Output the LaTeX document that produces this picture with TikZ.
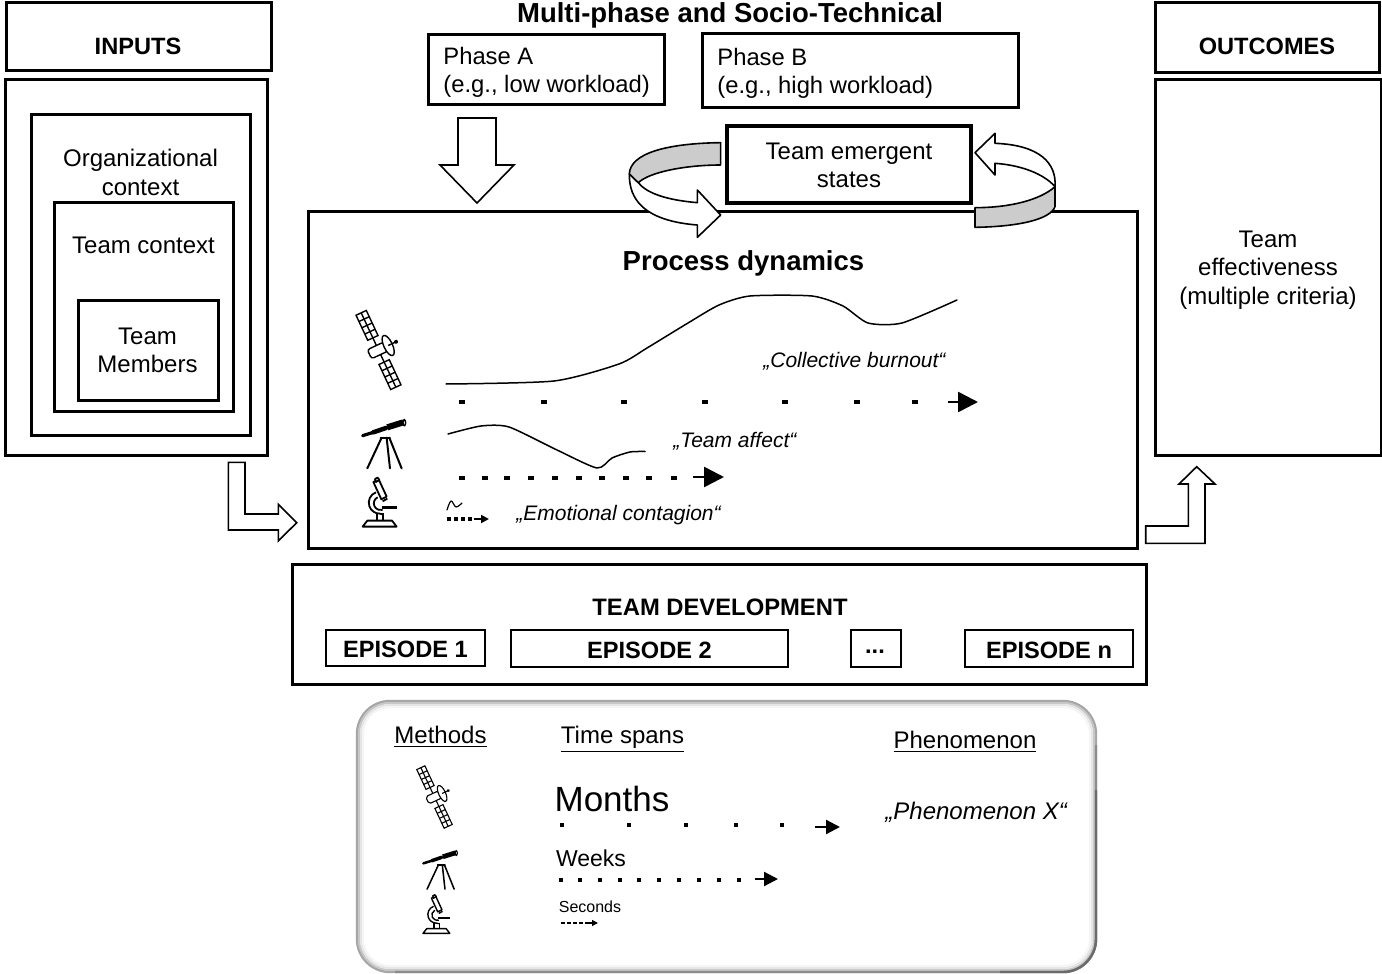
\documentclass[tikz,border=0pt]{standalone}
\usepackage{fontspec}
\setmainfont{Liberation Sans}
\usetikzlibrary{arrows.meta}
\tikzset{
  box/.style={draw=black,line width=1.5pt,fill=white,inner sep=0pt},
  txt/.style={inner sep=0pt,align=center,font=\fontsize{12}{14.3}\selectfont},
  ltxt/.style={inner sep=0pt,align=left,anchor=west,font=\fontsize{11.9}{14.3}\selectfont},
  head/.style={inner sep=0pt,align=center,font=\fontsize{11.8}{14}\selectfont\bfseries},
  quote/.style={inner sep=0pt,anchor=west,font=\fontsize{10.5}{12}\selectfont\itshape},
  blockarrow/.style={draw=black,line width=.8pt,fill=white,line join=miter},
  curve/.style={draw=black,line width=.75pt,line join=round,line cap=round},
  dot/.style={fill=black,inner sep=0pt,minimum width=#1,minimum height=.8*#1,draw=none,shape=rectangle},
  tail/.style args={#1 and #2}{line width=#1,-{Triangle[length=#2,width=#2]},draw=black},
  pics/sat/.style={code={
    \begin{scope}[rotate=-65,line width=#1,draw=black]
      \foreach \s in {-1,1}{
        \draw (\s*12,0)--(\s*40,0);
        \draw[fill=white] (\s*40,-17) rectangle (\s*123,17);
        \draw ({\s*60.75},-17)--({\s*60.75},17) ({\s*81.5},-17)--({\s*81.5},17) ({\s*102.25},-17)--({\s*102.25},17);
        \draw (\s*40,0)--(\s*123,0);
      }
      \draw[fill=white,rounded corners=2.5pt*#1/.7pt*.5] (-15,30) -- (15,30) -- (15,-24) -- (-15,-24) -- cycle;
      \draw[fill=white] (0,-32) ellipse (33 and 13);
      \draw (0,-32)--(0,-58);
      \fill (0,-58) circle (6);
    \end{scope}
  }},
  pics/tele/.style={code={
    \begin{scope}[shift={(-130,-465)},line width=#1,draw=black,line cap=round]
      \draw[line width=1.8*#1] (68,437)--(100,427);
      \draw[line width=2.5*#1] (100,427)--(138,414);
      \draw[line width=3.4*#1,line cap=butt] (142,412)--(190,397);
      \draw[line width=.8*#1,fill=white] (193,398) ellipse (4 and 9);
      \draw[line width=1.1*#1] (125,443)--(82,535);
      \draw[line width=1.1*#1] (140,443)--(150,535);
      \draw[line width=1.1*#1] (148,443)--(185,535);
      \draw[line width=1.1*#1] (122,443)--(150,443);
    \end{scope}
  }},
  pics/micro/.style={code={
    \begin{scope}[shift={(-120,-640)},line width=#1,draw=black,line join=round]
      \draw[fill=white] (68,710)--(82,692)--(156,692)--(170,710)--cycle;
      \draw (110,670)--(110,692) (130,670)--(130,692);
      \draw (108,607) arc (-110:-270:33) -- (128,673);
      \draw (113,622) arc (-115:-250:20) -- (128,660);
      \draw[line width=1.5*#1] (125,652)--(172,652);
      \draw[fill=white] (100,576)--(116,568)--(140,620)--(124,628)--cycle;
      \draw[fill=white] (105,567)--(113,563)--(118,570)--(108,576)--cycle;
      \draw (128,634)--(142,626);
    \end{scope}
  }},
}
\begin{document}
\begin{tikzpicture}[x=.5pt,y=-.5pt]
\useasboundingbox (0,0) rectangle (1382,974);
\fill[white] (0,0) rectangle (1382,974);

% input column
\node[box,minimum width=132.5pt,minimum height=34pt] (inputs) at (138.5,37) {};
\node[head] at (138,46) {INPUTS};
\node[box,minimum width=131pt,minimum height=187.5pt] (outer) at (136,267.5) {};
\node[box,minimum width=109.5pt,minimum height=160pt] (org) at (140.5,275) {};
\node[txt] (orgt) at (140.5,172.5) {Organizational\\context};
\node[box,minimum width=89.5pt,minimum height=104.5pt] (tctx) at (143.5,306.5) {};
\node[txt] (tctxt) at (143.5,245) {Team context};
\node[box,minimum width=70pt,minimum height=50pt] (tm) at (148,350) {};
\node[txt] (tmt) at (147.5,350.5) {Team\\Members};

% top
\node[head,font=\fontsize{13.75}{16}\selectfont\bfseries] (title) at (730,15) {Multi-phase and Socio-Technical};
\node[box,minimum width=118pt,minimum height=35pt] (pa) at (546,70) {};
\node[ltxt] (pat) at (443,72.5) {Phase A\\(e.g., low workload)};
\node[box,minimum width=158pt,minimum height=37pt] (pb) at (860,71) {};
\node[ltxt] (pbt) at (717,73.5) {Phase B\\(e.g., high workload)};
\draw[blockarrow] (458,118)--(496,118)--(496,165)--(514,165)--(477,203)--(440,165)--(458,165)--cycle;

% process box
\node[box,minimum width=414.5pt,minimum height=168.5pt] (proc) at (722.5,379.5) {};

% team emergent states
\node[box,line width=2pt,minimum width=122pt,minimum height=38.5pt] (tes) at (849,164.5) {};
\node[txt] (test) at (849,165.5) {Team emergent\\states};

% swirl arrows (crop units)
\begin{scope}[shift={(610,110)},x=.1666667pt,y=-.1666667pt,line width=.8pt,line join=round]
  % left
  \draw[fill=white] (58,192) .. controls (58,240) and (70,330) .. (262,345) -- (262,382) -- (332,315) -- (262,240) -- (262,278) .. controls (170,270) and (110,250) .. (85,218) -- cycle;
  \draw[fill=black!20] (332,98) .. controls (170,100) and (60,130) .. (58,192) -- (85,218) .. controls (120,185) and (230,165) .. (332,165) -- cycle;
  % right
  \draw[fill=white] (1335,230) .. controls (1340,160) and (1290,105) .. (1155,100) -- (1155,70) -- (1095,128) -- (1155,195) -- (1155,160) .. controls (1230,165) and (1300,190) .. (1335,230) -- cycle;
  \draw[fill=black!20] (1335,230) .. controls (1290,270) and (1200,293) .. (1095,293) -- (1095,352) .. controls (1220,350) and (1320,330) .. (1335,290) -- cycle;
\end{scope}

% process content
\node[font=\fontsize{13.75}{16}\selectfont\bfseries,inner sep=0pt] (ptitle) at (743.5,263.5) {Process dynamics};
\pic at (378.5,350) [scale=.3333] {sat=.7pt};
\pic at (383.3,445) [scale=.3333] {tele=.9pt};
\pic at (380,503.3) [scale=.3333] {micro=.9pt};
\draw[curve] plot[smooth,tension=.4] coordinates {(446,384) (554,381) (619,364) (647,348) (688,323) (719,305) (750,296) (812,296) (843,306) (868,323) (902,323) (957,300)};
\draw[curve] plot[smooth,tension=.4] coordinates {(448,434) (481,426) (509,427) (557,450) (597,468) (612,458) (630,452) (645,451.5)};
\draw[curve,line width=.6pt] plot[smooth,tension=.6] coordinates {(447,510) (451,501) (456,507) (462,503)};
\node[quote] (q1) at (763,361) {„Collective burnout“};
\node[quote] (q2) at (673,441) {„Team affect“};
\node[quote] (q3) at (516,515) {„Emotional contagion“};

\foreach \x in {462,544,624,705,785,857,915} \node[dot=2.6pt] at (\x,402) {};
\coordinate (a1s) at (948,402); \coordinate (a1e) at (978,402);
\draw[tail=1.3pt and 10pt] (a1s)--(a1e);
\foreach \x in {462,485,507,531,555,579,602,626,649,674} \node[dot=2.6pt] at (\x,478) {};
\coordinate (a2s) at (693,477); \coordinate (a2e) at (724,477);
\draw[tail=1.3pt and 10pt] (a2s)--(a2e);
\foreach \x in {449,456,463,470} \node[dot=2.4pt] at (\x,519) {};
\coordinate (a3s) at (474,519); \coordinate (a3e) at (489,519);
\draw[tail=1pt and 4pt] (a3s)--(a3e);

% outcomes
\node[box,minimum width=112pt,minimum height=35pt] (out) at (1267,38) {};
\node[head] at (1267,46) {OUTCOMES};
\node[box,minimum width=113pt,minimum height=187.5pt] (eff) at (1268,267.5) {};
\node[txt] (efft) at (1268,270) {Team\\effectiveness\\(multiple criteria)};

% side arrows
\draw[blockarrow] (228.3,462.3)--(245,462.3)--(245,514)--(278.3,514)--(278.3,504.3)--(296.7,522.7)--(278.3,541)--(278.3,530)--(228.3,530)--cycle;
\draw[blockarrow] (1145.7,526)--(1188.3,526)--(1188.3,484)--(1179,484)--(1196.7,466.7)--(1215,484)--(1205,484)--(1205,543.3)--(1145.7,543.3)--cycle;

% development
\node[box,minimum width=427pt,minimum height=60pt] (dev) at (719.5,624) {};
\node[head,font=\fontsize{11.9}{14}\selectfont\bfseries] (devt) at (720,607) {TEAM DEVELOPMENT};
\node[box,line width=1pt,minimum width=79.5pt,minimum height=18pt] (e1) at (405.5,648) {};
\node[head] at (405.5,649) {EPISODE 1};
\node[box,line width=1pt,minimum width=138.5pt,minimum height=18.5pt] (e2) at (649.5,648.5) {};
\node[head] at (649.5,650) {EPISODE 2};
\node[box,line width=1pt,minimum width=25pt,minimum height=18.5pt] (e3) at (876,648.5) {};
\node[head] at (875,652) {...};
\node[box,line width=1pt,minimum width=84pt,minimum height=18.5pt] (e4) at (1049,648.5) {};
\node[head] at (1049,650) {EPISODE n};

% legend
\draw[line width=1.2pt,draw=black!35,fill=white,rounded corners=16.5pt] (357,701) rectangle (1096,972);
\draw[line width=1pt,draw=black!22,rounded corners=15.5pt] (359,703) rectangle (1094,970);
\draw[line width=1pt,draw=black!10,rounded corners=14.5pt] (361,705) rectangle (1092,968);
\draw[line width=1pt,draw=black!4,rounded corners=13.5pt] (363,707) rectangle (1090,966);
\draw[line width=1.2pt,draw=black!45,rounded corners=16.5pt] (1096,745)--(1096,972)--(395,972);
\draw[line width=1.2pt,draw=black!58,rounded corners=16.5pt] (1096,790)--(1096,972)--(1000,972);
\node[txt] (lm) at (440.5,737) {\underline{Methods}};
\node[txt] (lt) at (622.5,739) {\underline{Time spans}};
\node[txt] (lp) at (965,742) {\underline{Phenomenon}};
\pic at (434.5,797) [scale=.263] {sat=.55pt};
\pic at (439.7,870.7) [scale=.263] {tele=.7pt};
\pic at (436.7,915) [scale=.263] {micro=.7pt};
\node[inner sep=0pt,font=\fontsize{17.5}{20}\selectfont] (lmo) at (612,799) {Months};
\node[inner sep=0pt,font=\fontsize{11.5}{14}\selectfont] (lwe) at (591,858) {Weeks};
\node[inner sep=0pt,font=\fontsize{8}{10}\selectfont] (lse) at (590,907) {Seconds};
\node[quote,font=\fontsize{12}{14}\selectfont\itshape] (lq) at (885,812) {„Phenomenon X“};
\foreach \x in {562,629,686,736,782} \node[dot=2.2pt] at (\x,825) {};
\coordinate (b1s) at (815,827); \coordinate (b1e) at (840,827);
\draw[tail=1.1pt and 7pt] (b1s)--(b1e);
\foreach \x in {561,580,600,620,639,659,679,699,719,739} \node[dot=2.2pt] at (\x,880) {};
\coordinate (b2s) at (755,879); \coordinate (b2e) at (778,879);
\draw[tail=1.1pt and 7pt] (b2s)--(b2e);
\foreach \x in {563,569,575,581,587} \node[dot=1.8pt] at (\x,923) {};
\coordinate (b3s) at (589,923); \coordinate (b3e) at (598,923);
\draw[tail=.6pt and 3pt] (b3s)--(b3e);
\end{tikzpicture}
\end{document}
